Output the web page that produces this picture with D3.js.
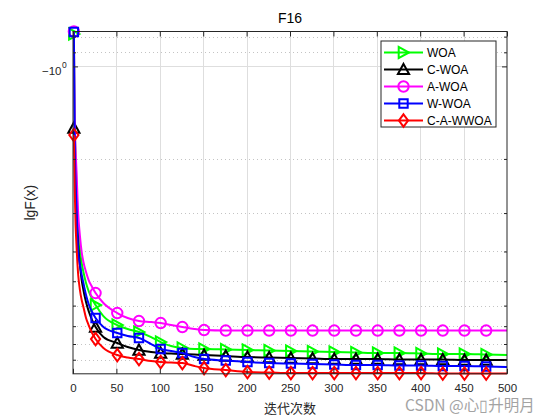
<!DOCTYPE html>
<html><head><meta charset="utf-8">
<script src="https://cdn.jsdelivr.net/npm/d3@7"></script>
<style>body{margin:0;background:#fff;} svg{display:block;}</style>
</head><body>
<svg id="chart" width="560" height="420"></svg>
<script>
// ---------- data ----------
const iterations = [1,2,3,4,6,8,10,12,15,18,22,26,35,51,63,76,90,101,113,126,140,151,176,201,226,251,276,301,326,351,376,401,426,451,476,500];
const woa    = [-0.785,-1.551,-1.942,-2.431,-3.281,-3.957,-4.362,-4.666,-5.067,-5.379,-5.711,-5.974,-6.488,-6.940,-7.152,-7.314,-7.593,-7.883,-8.122,-8.245,-8.307,-8.307,-8.338,-8.370,-8.401,-8.433,-8.464,-8.496,-8.528,-8.560,-8.560,-8.592,-8.624,-8.624,-8.657,-8.689];
const cwoa   = [-1.587,-1.871,-2.431,-2.932,-3.811,-4.427,-4.954,-5.339,-5.841,-6.249,-6.685,-7.045,-7.593,-7.942,-8.183,-8.370,-8.496,-8.560,-8.592,-8.624,-8.657,-8.689,-8.754,-8.820,-8.853,-8.887,-8.920,-8.953,-8.953,-8.953,-8.987,-8.987,-8.987,-9.021,-9.021,-9.021];
const awoa   = [-0.770,-1.494,-1.871,-2.173,-3.022,-3.563,-4.017,-4.329,-4.666,-4.954,-5.221,-5.461,-5.885,-6.343,-6.586,-6.735,-6.786,-6.837,-6.940,-7.045,-7.152,-7.205,-7.232,-7.232,-7.232,-7.232,-7.232,-7.232,-7.232,-7.232,-7.232,-7.232,-7.232,-7.232,-7.232,-7.232];
const wwoa   = [-0.773,-1.736,-2.342,-2.825,-4.017,-4.427,-4.772,-5.067,-5.543,-5.930,-6.296,-6.586,-7.045,-7.369,-7.536,-7.650,-8.001,-8.307,-8.433,-8.560,-8.820,-8.953,-9.055,-9.158,-9.226,-9.261,-9.296,-9.331,-9.366,-9.366,-9.401,-9.401,-9.436,-9.436,-9.471,-9.507];
const cawwoa = [-1.672,-2.524,-3.281,-3.811,-4.772,-5.339,-5.755,-6.065,-6.586,-6.940,-7.369,-7.708,-8.245,-8.689,-8.853,-8.953,-9.089,-9.158,-9.192,-9.226,-9.436,-9.578,-9.723,-9.870,-9.907,-9.944,-9.944,-9.944,-9.944,-9.944,-9.944,-9.944,-9.981,-9.981,-9.981,-9.981];
const seriesNames   = ["WOA","C-WOA","A-WOA","W-WOA","C-A-WWOA"];
const seriesValues  = [woa, cwoa, awoa, wwoa, cawwoa];
const seriesColors  = ["#00ff00","#000000","#ff00ff","#0000ff","#ff0000"];
const seriesMarkers = ["triangleRight","triangleUp","circle","square","diamond"];
const markerIterations = [1,26,51,76,101,126,151,176,201,226,251,276,301,326,351,376,401,426,451,476];
const xTicks = [0,50,100,150,200,250,300,350,400,450,500];
const yMajorTicks = [-1];
const yMinorTicks = [-0.8,-0.9,-2,-3,-4,-5,-6,-7,-8,-9];
const yDomain = [-0.77, -10];
const xDomain = [0, 500];
const titleText = "F16";
const xLabelText = "迭代次数";
const yLabelText = "lgF(x)";
const watermarkText = "CSDN @心▯升明月";

// ---------- layout ----------
const L = 73, R = 507, T = 31.5, B = 373.8;
const svg = d3.select("#chart");
const FONT = "'Liberation Sans', Arial, Helvetica, sans-serif";
const AX = "#262626";

svg.append("rect").attr("width",560).attr("height",420).attr("fill","#fff");

const x = d3.scaleLinear().domain(xDomain).range([L, R]);
const y = d3.scaleLog().domain(yDomain).range([T, B]);

// grid
const grid = svg.append("g");
grid.selectAll("line.xg").data(xTicks.filter(d => d > xDomain[0] && d < xDomain[1])).join("line")
  .attr("x1", d => Math.round(x(d)) + 0.5).attr("x2", d => Math.round(x(d)) + 0.5)
  .attr("y1", T).attr("y2", B).attr("stroke", "#dedede").attr("stroke-width", 1);
grid.selectAll("line.yg").data(yMajorTicks).join("line")
  .attr("x1", L).attr("x2", R).attr("y1", d => Math.round(y(d)) + 0.5).attr("y2", d => Math.round(y(d)) + 0.5)
  .attr("stroke", "#dedede").attr("stroke-width", 1);
grid.selectAll("line.ym").data(yMinorTicks).join("line")
  .attr("x1", L).attr("x2", R).attr("y1", d => Math.round(y(d)) + 0.5).attr("y2", d => Math.round(y(d)) + 0.5)
  .attr("stroke", "#c4c4c4").attr("stroke-width", 1).attr("stroke-dasharray", "1,3");

// clip
svg.append("clipPath").attr("id","clip").append("rect")
  .attr("x", L).attr("y", T - 1).attr("width", R - L).attr("height", B - T + 2);

// marker path generator
function markerPath(type) {
  switch (type) {
    case "circle": return "M5.2,0A5.2,5.2 0 1,1 -5.2,0A5.2,5.2 0 1,1 5.2,0Z";
    case "square": return "M-4.2,-4.2H4.2V4.2H-4.2Z";
    case "diamond": return "M0,-6.2L4.6,0L0,6.2L-4.6,0Z";
    case "triangleUp": return "M0,-5.6L5.6,4.6L-5.6,4.6Z";
    case "triangleRight": return "M5.4,0L-4.8,5.6L-4.8,-5.6Z";
  }
}

const line = d3.line().x((d) => x(d[0])).y((d) => y(d[1])).curve(d3.curveMonotoneX);

seriesValues.forEach((vals, i) => {
  const pts = iterations.map((it, k) => [it, vals[k]]);
  const g = svg.append("g");
  g.append("path").datum(pts).attr("d", line)
    .attr("fill", "none").attr("stroke", seriesColors[i]).attr("stroke-width", 2)
    .attr("stroke-linejoin", "round").attr("clip-path", "url(#clip)");
  const mpts = pts.filter(p => markerIterations.includes(p[0]));
  g.selectAll("path.m").data(mpts).join("path")
    .attr("d", markerPath(seriesMarkers[i]))
    .attr("transform", p => `translate(${x(p[0])},${y(p[1])})`)
    .attr("fill", "none").attr("stroke", seriesColors[i]).attr("stroke-width", 2);
});

// axes (ticks drawn with d3 axes)
function styleAxis(g) {
  g.select(".domain").remove();
  g.selectAll(".tick line").attr("stroke", AX).attr("stroke-width", 1);
  g.selectAll(".tick text").attr("fill", AX).attr("font-family", FONT).attr("font-size", 11.5);
}
svg.append("g").attr("transform", `translate(0,${B})`)
  .call(d3.axisBottom(x).tickValues(xTicks).tickSize(-5).tickPadding(10).tickFormat(d3.format("d")))
  .call(styleAxis);
svg.append("g").attr("transform", `translate(0,${T})`)
  .call(d3.axisTop(x).tickValues(xTicks).tickSize(-5).tickFormat(""))
  .call(styleAxis);
svg.append("g").attr("transform", `translate(${L},0)`)
  .call(d3.axisLeft(y).tickValues(yMajorTicks).tickSize(-5).tickFormat(""))
  .call(styleAxis);
svg.append("g").attr("transform", `translate(${R},0)`)
  .call(d3.axisRight(y).tickValues(yMajorTicks).tickSize(-5).tickFormat(""))
  .call(styleAxis);
svg.append("g").attr("transform", `translate(${L},0)`)
  .call(d3.axisLeft(y).tickValues(yMinorTicks).tickSize(-3).tickFormat(""))
  .call(styleAxis);
svg.append("g").attr("transform", `translate(${R},0)`)
  .call(d3.axisRight(y).tickValues(yMinorTicks).tickSize(-3).tickFormat(""))
  .call(styleAxis);

// y major tick labels "-10^0"
yMajorTicks.forEach(v => {
  const mag = Math.abs(v);
  const exp = Math.round(Math.log10(mag));
  svg.append("text").attr("x", 61.5).attr("y", y(v) + 8.5)
    .attr("text-anchor", "end").attr("font-family", FONT).attr("font-size", 11.5).attr("fill", AX)
    .text("\u221210");
  svg.append("text").attr("x", 62).attr("y", y(v) + 1.8)
    .attr("font-family", FONT).attr("font-size", 8.5).attr("fill", AX)
    .text(String(exp));
});

// box
svg.append("rect").attr("x", L).attr("y", T).attr("width", R - L).attr("height", B - T)
  .attr("fill", "none").attr("stroke", AX).attr("stroke-width", 1);

// title & labels
svg.append("text").attr("x", (L + R) / 2).attr("y", 23).attr("text-anchor", "middle")
  .attr("font-family", FONT).attr("font-size", 14).attr("fill", "#000").text(titleText);
svg.append("text").attr("x", (L + R) / 2).attr("y", 413).attr("text-anchor", "middle")
  .attr("font-family", "'Noto Sans CJK SC', sans-serif").attr("font-size", 13).attr("fill", AX).text(xLabelText);
svg.append("text").attr("transform", `translate(35,${(T + B) / 2}) rotate(-90)`).attr("text-anchor", "middle")
  .attr("font-family", FONT).attr("font-size", 14).attr("fill", AX).text(yLabelText);

// legend
const lg = svg.append("g");
lg.append("rect").attr("x", 381).attr("y", 41).attr("width", 115).attr("height", 86)
  .attr("fill", "#fff").attr("stroke", AX).attr("stroke-width", 1);
seriesNames.forEach((name, i) => {
  const yy = 52.5 + i * 17;
  lg.append("line").attr("x1", 384).attr("x2", 423).attr("y1", yy).attr("y2", yy)
    .attr("stroke", seriesColors[i]).attr("stroke-width", 2);
  lg.append("path").attr("d", markerPath(seriesMarkers[i])).attr("transform", `translate(403.5,${yy})`)
    .attr("fill", "none").attr("stroke", seriesColors[i]).attr("stroke-width", 2);
  lg.append("text").attr("x", 427).attr("y", yy + 4.3).attr("font-family", FONT).attr("font-size", 12)
    .attr("fill", "#000").text(name);
});

// watermark
svg.append("text").attr("x", 405).attr("y", 411).attr("font-family", "'Noto Sans CJK SC', 'Liberation Sans', sans-serif")
  .attr("font-size", 15.5).attr("fill", "#9a9a9a").attr("opacity", 0.9).text(watermarkText);
</script>
</body></html>
